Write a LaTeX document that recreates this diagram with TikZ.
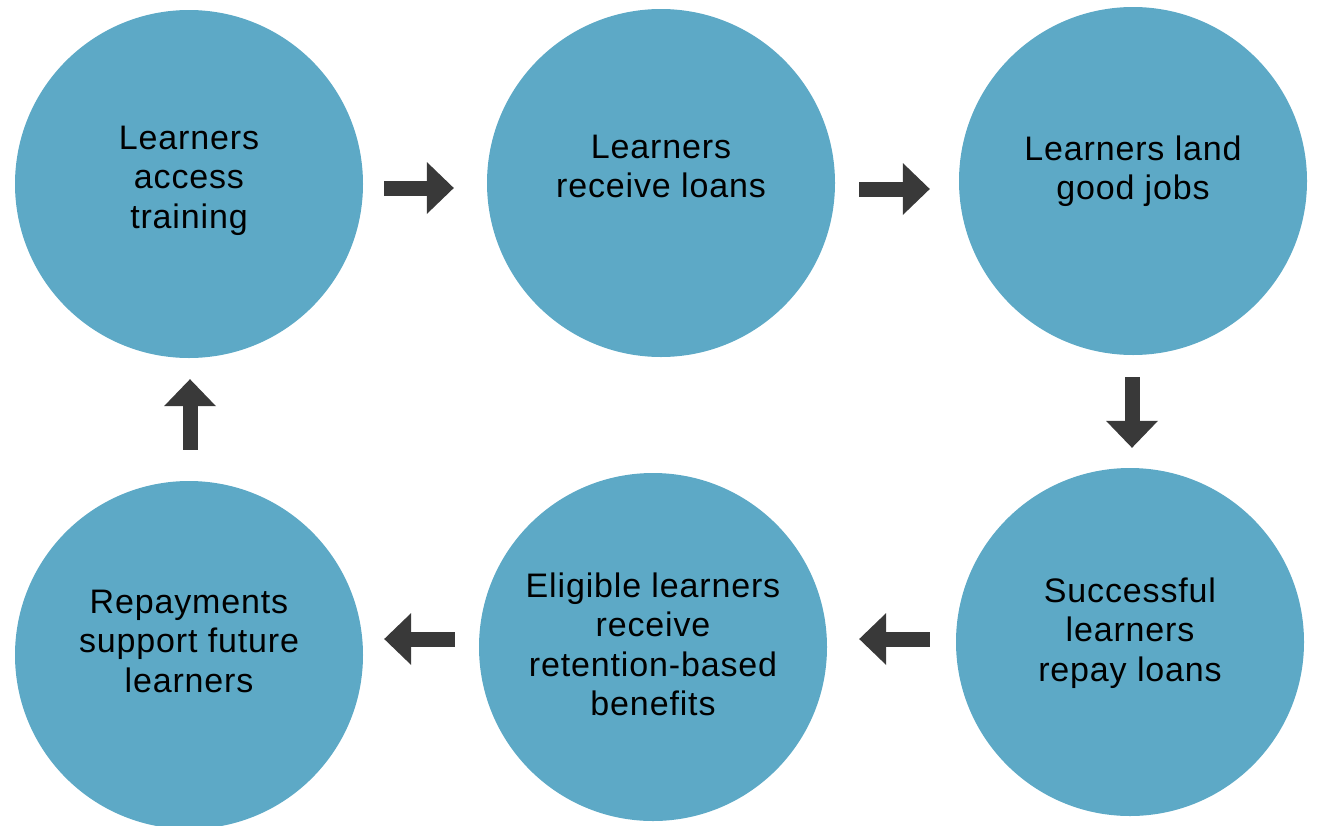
\documentclass[tikz,border=0pt]{standalone}
\usepackage{fontspec}
\setmainfont{Liberation Sans}[LetterSpace=2.5]
\usetikzlibrary{arrows.meta}
\definecolor{circ}{HTML}{5DA9C6}
\definecolor{arr}{HTML}{393939}
\begin{document}
\begin{tikzpicture}[x=1pt,y=-1pt,
  stage/.style={circle, fill=circ, minimum size=348pt, inner sep=0pt, draw=none},
  lbl/.style={anchor=base, inner sep=0pt, text=black, font=\fontsize{34}{39.5}\selectfont},
  flow/.style={draw=arr, line width=15pt, -{Triangle[length=27pt,width=52pt,line width=0pt]}}]
\useasboundingbox (0,0) rectangle (1317,825);
\node[stage] (c1) at (189,184) {};
\node[stage] (c2) at (661,183) {};
\node[stage] (c3) at (1133,181) {};
\node[stage] (c4) at (1130,642) {};
\node[stage] (c5) at (653,647) {};
\node[stage] (c6) at (189,655) {};
\node[lbl] (t1) at (189,149) {\begin{tabular}[t]{@{}c@{}}Learners\\access\\training\end{tabular}};
\node[lbl] (t2) at (661,158) {\begin{tabular}[t]{@{}c@{}}Learners\\receive loans\end{tabular}};
\node[lbl] (t3) at (1133,160) {\begin{tabular}[t]{@{}c@{}}Learners land\\good jobs\end{tabular}};
\node[lbl] (t4) at (1130,602) {\begin{tabular}[t]{@{}c@{}}Successful\\learners\\repay loans\end{tabular}};
\node[lbl] (t5) at (653,597) {\begin{tabular}[t]{@{}c@{}}Eligible learners\\receive\\retention-based\\benefits\end{tabular}};
\node[lbl] (t6) at (189,613) {\begin{tabular}[t]{@{}c@{}}Repayments\\support future\\learners\end{tabular}};
\draw[flow, shorten <=21pt, shorten >=33pt] ([yshift=-4pt]c1.east) -- ([yshift=-5pt]c2.west);
\draw[flow, shorten <=24pt, shorten >=29pt] ([yshift=-6pt]c2.east) -- ([yshift=-8pt]c3.west);
\draw[flow, shorten <=22pt, shorten >=20pt] ([xshift=-1pt]c3.south) -- ([xshift=2pt]c4.north);
\draw[flow, shorten <=26pt, shorten >=32pt] ([yshift=3pt]c4.west) -- ([yshift=8pt]c5.east);
\draw[flow, shorten <=24pt, shorten >=21pt] ([yshift=8pt]c5.west) -- ([yshift=16pt]c6.east);
\draw[flow, shorten <=31pt, shorten >=21pt] ([xshift=1pt]c6.north) -- ([xshift=1pt]c1.south);
\end{tikzpicture}
\end{document}
